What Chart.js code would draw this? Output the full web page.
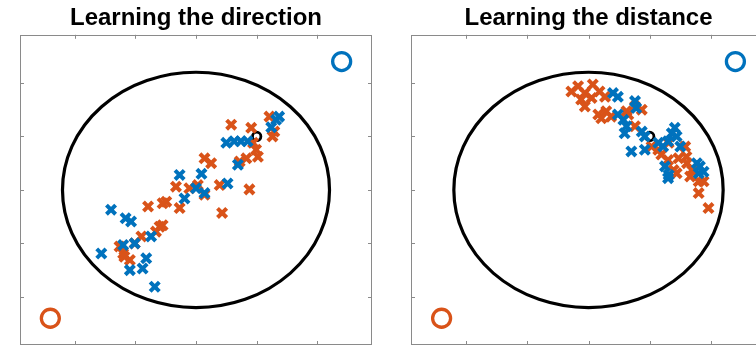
<!DOCTYPE html>
<html>
<head>
<meta charset="utf-8">
<script src="https://cdn.jsdelivr.net/npm/chart.js@4.4.1/dist/chart.umd.min.js"></script>
<style>
  html, body { margin: 0; padding: 0; background: #fff; overflow: hidden; width: 756px; height: 345px; }
  #wrap { position: relative; width: 756px; height: 345px; overflow: hidden; }
  canvas { position: absolute; top: 0; }
  #dirChart { left: 0; width: 378px; height: 350px; }
  #distChart { left: 378px; width: 400px; height: 350px; }
</style>
</head>
<body>
<div id="wrap">
  <canvas id="dirChart" width="378" height="350"></canvas>
  <canvas id="distChart" width="400" height="350"></canvas>
</div>
<script>
// Workspace limits and tick positions (same for x and y)
const axisLimit = 2.9;
const tickValues = [-2, -1, 0, 1, 2];

// Reachable workspace boundary (circle centred on the origin)
const boundaryRadius = 2.2;

// Start targets for each hand and the shared goal
const orangeTarget = [-2.4, -2.4];
const blueTarget = [2.4, 2.4];
const goalPoint = [1.0, 1.0];

// Panel 1: learning the direction — end points
const dirOrangeX = [1.21, 0.58, 0.91, 1.26, 1.29, 0.94, 0.99, 1.02, 0.83, 0.72, 0.14, 0.25, -0.33, -0.11, 0.03, 0.14, 0.39, 0.88, -0.49, -0.55, -0.27, -0.79, 0.43, -0.60, -0.66, -0.55, -0.90, -1.01, -1.20, -1.09, -1.26, -1.18];
const dirOrangeY = [1.37, 1.22, 1.16, 1.00, 1.09, 0.88, 0.75, 0.62, 0.59, 0.53, 0.59, 0.50, 0.06, 0.03, 0.09, -0.09, 0.09, 0.01, -0.22, -0.25, -0.34, -0.31, -0.43, -0.69, -0.78, -0.66, -0.87, -1.00, -1.19, -1.31, -1.06, -1.25];
const dirBlueX = [1.37, 1.32, 1.24, 0.50, 0.63, 0.74, 0.85, 0.69, -0.27, 0.09, 0.52, 0.00, 0.14, -0.19, -1.40, -1.16, -1.07, -0.74, -1.01, -1.20, -1.56, -0.82, -0.88, -1.09, -0.68];
const dirBlueY = [1.37, 1.31, 1.17, 0.88, 0.91, 0.91, 0.91, 0.47, 0.28, 0.30, 0.12, 0.03, -0.06, -0.16, -0.37, -0.53, -0.59, -0.87, -1.00, -1.03, -1.19, -1.28, -1.47, -1.50, -1.81];

// Panel 2: learning the distance — end points
const distOrangeX = [-0.28, -0.17, -0.06, 0.07, 0.18, -0.12, 0.05, 0.27, -0.06, 0.16, 0.29, 0.21, 0.37, 0.62, 0.76, 0.87, 0.65, 0.76, 1.03, 1.19, 1.30, 1.44, 1.39, 1.58, 1.60, 1.69, 1.66, 1.80, 1.88, 1.80, 1.96, 1.14, 1.31, 1.47, 1.61];
const distOrangeY = [1.84, 1.94, 1.81, 1.97, 1.84, 1.69, 1.72, 1.74, 1.56, 1.41, 1.47, 1.34, 1.37, 1.47, 1.56, 1.50, 1.41, 1.19, 0.81, 0.66, 0.56, 0.31, 0.37, 0.81, 0.62, 0.37, 0.25, 0.16, 0.16, -0.06, -0.34, 0.75, 0.88, 0.59, 0.50];
const distBlueX = [0.40, 0.48, 0.76, 0.78, 0.48, 0.57, 0.62, 0.59, 0.87, 0.92, 0.70, 0.92, 1.14, 1.22, 1.36, 1.41, 1.44, 1.30, 1.50, 1.25, 1.30, 1.77, 1.82, 1.88, 1.80, 1.31];
const distBlueY = [1.81, 1.74, 1.66, 1.53, 1.41, 1.31, 1.19, 1.06, 1.09, 1.00, 0.72, 0.75, 0.88, 0.81, 1.06, 1.16, 1.00, 0.91, 0.81, 0.44, 0.22, 0.50, 0.44, 0.34, 0.31, 0.28];

const ORANGE = '#D95319';
const BLUE = '#0072BD';
const AXIS_GREY = '#8a8a8a';

const toPoints = (xs, ys) => xs.map((x, i) => ({ x, y: ys[i] }));

// Draws the boundary circle under the markers, and a boxed frame with inward ticks on top
const framePlugin = {
  id: 'boxFrame',
  beforeDatasetsDraw(chart) {
    const { ctx, scales: { x, y } } = chart;
    const cx = x.getPixelForValue(0);
    const cy = y.getPixelForValue(0);
    const rx = x.getPixelForValue(boundaryRadius) - cx;
    const ry = cy - y.getPixelForValue(boundaryRadius);
    ctx.save();
    ctx.beginPath();
    ctx.ellipse(cx, cy, rx, ry, 0, 0, Math.PI * 2);
    ctx.lineWidth = 3.2;
    ctx.strokeStyle = '#000';
    ctx.stroke();
    ctx.restore();
  },
  afterDatasetsDraw(chart) {
    const { ctx, chartArea: a, scales: { x, y } } = chart;
    const tl = 4;
    ctx.save();
    ctx.strokeStyle = AXIS_GREY;
    ctx.lineWidth = 1;
    ctx.strokeRect(Math.round(a.left) + 0.5, Math.round(a.top) + 0.5,
                   Math.round(a.right) - Math.round(a.left) - 1, Math.round(a.bottom) - Math.round(a.top) - 1);
    ctx.beginPath();
    for (const v of tickValues) {
      const px = Math.round(x.getPixelForValue(v)) + 0.5;
      ctx.moveTo(px, a.top); ctx.lineTo(px, a.top + tl);
      ctx.moveTo(px, a.bottom); ctx.lineTo(px, a.bottom - tl);
      const py = Math.round(y.getPixelForValue(v)) + 0.5;
      ctx.moveTo(a.left, py); ctx.lineTo(a.left + tl, py);
      ctx.moveTo(a.right, py); ctx.lineTo(a.right - tl, py);
    }
    ctx.stroke();
    ctx.restore();
  }
};

function buildChart(canvasId, title, orangeX, orangeY, blueX, blueY, padLeft, padRight) {
  const crossStyle = { pointStyle: 'crossRot', pointRadius: 6.5, borderWidth: 4 };
  return new Chart(document.getElementById(canvasId), {
    type: 'scatter',
    data: {
      datasets: [
        { data: toPoints(blueX, blueY), borderColor: BLUE, backgroundColor: BLUE, ...crossStyle },
        { data: toPoints(orangeX, orangeY), borderColor: ORANGE, backgroundColor: ORANGE, ...crossStyle },
        { data: [{ x: blueTarget[0], y: blueTarget[1] }], pointStyle: 'circle', pointRadius: 9,
          borderWidth: 3.3, borderColor: BLUE, backgroundColor: 'rgba(0,0,0,0)' },
        { data: [{ x: orangeTarget[0], y: orangeTarget[1] }], pointStyle: 'circle', pointRadius: 9,
          borderWidth: 3.3, borderColor: ORANGE, backgroundColor: 'rgba(0,0,0,0)' },
        { data: [{ x: goalPoint[0], y: goalPoint[1] }], pointStyle: 'circle', pointRadius: 4.2,
          borderWidth: 2.8, borderColor: '#000', backgroundColor: 'rgba(0,0,0,0)' }
      ]
    },
    options: {
      responsive: false,
      animation: false,
      devicePixelRatio: 1,
      layout: { autoPadding: false, padding: { left: padLeft, right: padRight, top: 0, bottom: 5 } },
      scales: {
        x: { type: 'linear', min: -axisLimit, max: axisLimit, display: false },
        y: { type: 'linear', min: -axisLimit, max: axisLimit, display: false }
      },
      plugins: {
        legend: { display: false },
        tooltip: { enabled: false },
        title: {
          display: true,
          text: title,
          color: '#000',
          font: { family: "'Liberation Sans', Arial, sans-serif", size: 24, weight: 'bold', lineHeight: 1.2 },
          padding: { top: 4, bottom: 2 }
        }
      }
    },
    plugins: [framePlugin]
  });
}

buildChart('dirChart', 'Learning the direction', dirOrangeX, dirOrangeY, dirBlueX, dirBlueY, 20, 6);
buildChart('distChart', 'Learning the distance', distOrangeX, distOrangeY, distBlueX, distBlueY, 33, 12);
</script>
</body>
</html>
